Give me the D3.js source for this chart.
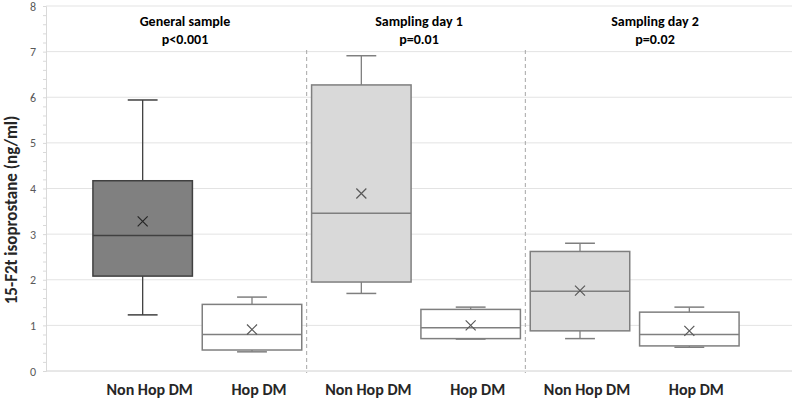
<!DOCTYPE html>
<html>
<head>
<meta charset="utf-8">
<script src="https://cdn.jsdelivr.net/npm/d3@7"></script>
<style>
  body { margin: 0; background: #fff; }
  text { font-family: Calibri, Carlito, Lato, "Open Sans", sans-serif; }
</style>
</head>
<body>
<div id="chart"></div>
<script>
// Data
const groups = ["General sample", "Sampling day 1", "Sampling day 2"];
const pValues = ["p<0.001", "p=0.01", "p=0.02"];
const categories = ["Non Hop DM", "Hop DM", "Non Hop DM", "Hop DM", "Non Hop DM", "Hop DM"];
const whiskerLow = [1.23, 0.42, 1.70, 0.70, 0.71, 0.52];
const q1 = [2.08, 0.46, 1.95, 0.71, 0.88, 0.55];
const median = [2.97, 0.80, 3.46, 0.95, 1.75, 0.80];
const q3 = [4.17, 1.46, 6.27, 1.35, 2.62, 1.29];
const whiskerHigh = [5.94, 1.62, 6.91, 1.40, 2.80, 1.40];
const mean = [3.28, 0.91, 3.89, 1.00, 1.76, 0.88];
const yTicks = [0, 1, 2, 3, 4, 5, 6, 7, 8];

const width = 797, height = 404;
const svg = d3.select("#chart").append("svg")
  .attr("width", width)
  .attr("height", height);

const plotLeft = 46, plotRight = 792;

const y = d3.scaleLinear().domain([0, 8]).range([371, 6]);
const ids = categories.map((c, i) => i);
const x = d3.scaleBand()
  .domain(ids)
  .range([88, 744])
  .paddingInner(0.09)
  .paddingOuter(0.045);
const step = x.step();
const bw = x.bandwidth();

// gridlines
svg.append("g")
  .selectAll("line")
  .data(yTicks)
  .join("line")
  .attr("x1", plotLeft)
  .attr("x2", plotRight)
  .attr("y1", d => y(d))
  .attr("y2", d => y(d))
  .attr("stroke", d => d === 0 ? "#d0d0d0" : "#e3e3e3")
  .attr("stroke-width", 1);

// y axis with minor ticks
const yAxis = d3.axisLeft(y)
  .tickValues(d3.range(0, 8.01, 0.2))
  .tickSize(3)
  .tickFormat("");
const ag = svg.append("g")
  .attr("transform", `translate(${plotLeft},0)`)
  .call(yAxis);
ag.selectAll("path, line").attr("stroke", "#d9d9d9");

svg.append("g")
  .selectAll("text")
  .data(yTicks)
  .join("text")
  .attr("x", 36)
  .attr("y", d => y(d) + 4.5)
  .attr("text-anchor", "end")
  .attr("font-size", 12)
  .attr("fill", "#595959")
  .text(d => d);

// y axis title
svg.append("text")
  .attr("transform", `translate(17,210) rotate(-90)`)
  .attr("text-anchor", "middle")
  .attr("font-size", 17)
  .attr("font-weight", "bold")
  .attr("fill", "#262626")
  .text("15-F2t isoprostane (ng/ml)");

// dashed dividers between groups
svg.append("g")
  .selectAll("line")
  .data([2, 4])
  .join("line")
  .attr("x1", d => x(d) - step * 0.045)
  .attr("x2", d => x(d) - step * 0.045)
  .attr("y1", 50)
  .attr("y2", 373)
  .attr("stroke", "#a6a6a6")
  .attr("stroke-dasharray", "4,3");

// box styles
const fills = ["#808080", "#ffffff", "#d9d9d9", "#ffffff", "#d9d9d9", "#ffffff"];
const strokes = ["#404040", "#7f7f7f", "#7f7f7f", "#7f7f7f", "#7f7f7f", "#7f7f7f"];

const boxes = svg.append("g")
  .selectAll("g")
  .data(ids)
  .join("g");

const cx = i => x(i) + bw / 2;
const capW = bw * 0.3;

// whiskers
boxes.append("line")
  .attr("x1", cx).attr("x2", cx)
  .attr("y1", i => y(whiskerHigh[i]))
  .attr("y2", i => y(q3[i]))
  .attr("stroke", i => strokes[i]).attr("stroke-width", 1.3);
boxes.append("line")
  .attr("x1", cx).attr("x2", cx)
  .attr("y1", i => y(q1[i]))
  .attr("y2", i => y(whiskerLow[i]))
  .attr("stroke", i => strokes[i]).attr("stroke-width", 1.3);
boxes.append("line")
  .attr("x1", i => cx(i) - capW / 2).attr("x2", i => cx(i) + capW / 2)
  .attr("y1", i => y(whiskerHigh[i])).attr("y2", i => y(whiskerHigh[i]))
  .attr("stroke", i => strokes[i]).attr("stroke-width", 1.5);
boxes.append("line")
  .attr("x1", i => cx(i) - capW / 2).attr("x2", i => cx(i) + capW / 2)
  .attr("y1", i => y(whiskerLow[i])).attr("y2", i => y(whiskerLow[i]))
  .attr("stroke", i => strokes[i]).attr("stroke-width", 1.5);

// box
boxes.append("rect")
  .attr("x", i => x(i))
  .attr("width", bw)
  .attr("y", i => y(q3[i]))
  .attr("height", i => y(q1[i]) - y(q3[i]))
  .attr("fill", i => fills[i])
  .attr("stroke", i => strokes[i])
  .attr("stroke-width", 1.5);

// median
boxes.append("line")
  .attr("x1", i => x(i)).attr("x2", i => x(i) + bw)
  .attr("y1", i => y(median[i])).attr("y2", i => y(median[i]))
  .attr("stroke", i => strokes[i]).attr("stroke-width", 1.5);

// mean marker
const m = 5;
boxes.append("path")
  .attr("d", i => {
    const px = cx(i), py = y(mean[i]);
    return `M${px - m},${py - m}L${px + m},${py + m}M${px - m},${py + m}L${px + m},${py - m}`;
  })
  .attr("stroke", i => i === 0 ? "#262626" : "#595959")
  .attr("stroke-width", 1.2)
  .attr("fill", "none");

// category labels
svg.append("g")
  .selectAll("text")
  .data(ids)
  .join("text")
  .attr("x", i => cx(i) + 7)
  .attr("y", 395)
  .attr("text-anchor", "middle")
  .attr("font-size", 16)
  .attr("font-weight", "bold")
  .attr("fill", "#262626")
  .text(i => categories[i]);

// group titles
const titleX = [185, 419, 655];
const tg = svg.append("g")
  .selectAll("g")
  .data(groups)
  .join("g");
tg.append("text")
  .attr("x", (d, i) => titleX[i])
  .attr("y", 26)
  .attr("text-anchor", "middle")
  .attr("font-size", 14)
  .attr("font-weight", "bold")
  .attr("fill", "#000")
  .text(d => d);
tg.append("text")
  .attr("x", (d, i) => titleX[i])
  .attr("y", 44)
  .attr("text-anchor", "middle")
  .attr("font-size", 14)
  .attr("font-weight", "bold")
  .attr("fill", "#000")
  .text((d, i) => pValues[i]);
</script>
</body>
</html>
